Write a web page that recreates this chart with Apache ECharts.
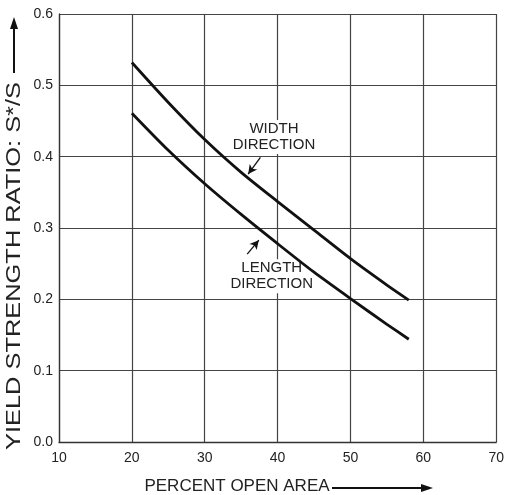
<!DOCTYPE html>
<html>
<head>
<meta charset="utf-8">
<script src="https://cdn.jsdelivr.net/npm/echarts@6/dist/echarts.min.js"></script>
<style>
html,body{margin:0;padding:0;background:#fff;}
#c{width:507px;height:495px;}
</style>
</head>
<body>
<div id="c"></div>
<script>
// Data
const percentOpen = [20, 25, 30, 35, 40, 45, 50, 55, 58];
const widthDirection = [0.532, 0.476, 0.424, 0.378, 0.337, 0.297, 0.257, 0.220, 0.199];
const lengthDirection = [0.461, 0.409, 0.362, 0.319, 0.278, 0.238, 0.201, 0.165, 0.144];
const xTicks = [10, 20, 30, 40, 50, 60, 70];
const yTicks = [0.0, 0.1, 0.2, 0.3, 0.4, 0.5, 0.6];
const widthLabel = 'WIDTH\nDIRECTION';
const lengthLabel = 'LENGTH\nDIRECTION';
const widthLabelAt = [39.5, 0.4275];
const lengthLabelAt = [39.2, 0.2325];
const widthArrow = [[37.64, 0.399], [35.96, 0.3756]];
const lengthArrow = [[35.83, 0.2634], [37.42, 0.283]];
const xName = 'PERCENT OPEN AREA';
const yName = 'YIELD STRENGTH RATIO: S*/S';

const FONT = '"Liberation Sans", Arial, Helvetica, sans-serif';
const chart = echarts.init(document.getElementById('c'), null, {renderer: 'canvas'});

function pairs(xs, ys) { return xs.map((x, i) => [x, ys[i]]); }

function arrowLine(pts) {
  return {
    silent: true,
    symbol: ['none', 'arrow'],
    symbolSize: [7, 9],
    label: {show: false},
    lineStyle: {color: '#111', width: 1.3, type: 'solid'},
    data: [[{coord: pts[0]}, {coord: pts[1]}]]
  };
}
function labelPoint(at, text) {
  return {
    silent: true,
    symbol: 'rect',
    symbolSize: 0,
    data: [{coord: at, value: text}],
    label: {
      show: true,
      position: 'inside',
      formatter: text,
      color: '#222',
      fontFamily: FONT,
      fontSize: 15,
      lineHeight: 16,
      align: 'center',
      verticalAlign: 'middle',
      backgroundColor: '#fff',
      padding: [1, 1]
    }
  };
}

const option = {
  animation: false,
  backgroundColor: '#fff',
  grid: {left: 59, top: 14, width: 441, height: 428, containLabel: false},
  xAxis: {
    type: 'value', min: xTicks[0], max: xTicks[xTicks.length - 1], interval: 10,
    axisLine: {show: true, onZero: false, lineStyle: {color: '#333', width: 1.3}},
    axisTick: {show: false},
    splitLine: {show: true, lineStyle: {color: '#444', width: 1.2}},
    axisLabel: {color: '#222', fontSize: 14, fontFamily: FONT, margin: 9,
      formatter: v => String(v), showMinLabel: true, showMaxLabel: true}
  },
  yAxis: {
    type: 'value', min: yTicks[0], max: yTicks[yTicks.length - 1], interval: 0.1,
    axisLine: {show: true, onZero: false, lineStyle: {color: '#333', width: 1.3}},
    axisTick: {show: false},
    splitLine: {show: true, lineStyle: {color: '#444', width: 1.2}},
    axisLabel: {color: '#222', fontSize: 14, fontFamily: FONT, margin: 6,
      formatter: v => v.toFixed(1), showMinLabel: true, showMaxLabel: true}
  },
  series: [
    {
      name: 'Annotations', type: 'scatter', data: [], z: 2,
      markLine: arrowLine(widthArrow),
      markPoint: labelPoint(widthLabelAt, widthLabel)
    },
    {
      name: 'Annotations 2', type: 'scatter', data: [], z: 2,
      markLine: arrowLine(lengthArrow),
      markPoint: labelPoint(lengthLabelAt, lengthLabel)
    },
    {
      name: 'Width direction', type: 'line', data: pairs(percentOpen, widthDirection),
      smooth: 0.25, showSymbol: false, symbol: 'none',
      lineStyle: {color: '#111', width: 2.8}, z: 5
    },
    {
      name: 'Length direction', type: 'line', data: pairs(percentOpen, lengthDirection),
      smooth: 0.25, showSymbol: false, symbol: 'none',
      lineStyle: {color: '#111', width: 2.8}, z: 5
    }
  ],
  graphic: [
    {type: 'text', x: 237, y: 486, style: {text: xName, fill: '#222', font: '17px ' + FONT, align: 'center', verticalAlign: 'middle'}},
    {type: 'line', shape: {x1: 332, y1: 488, x2: 424, y2: 488}, style: {stroke: '#111', lineWidth: 2}},
    {type: 'polygon', shape: {points: [[433, 488], [421, 484], [421, 492]]}, style: {fill: '#111'}},
    {type: 'text', x: 14.5, y: 266, rotation: Math.PI / 2, scaleX: 1.21, style: {text: yName, fill: '#222', font: '21px ' + FONT, align: 'center', verticalAlign: 'middle'}},
    {type: 'line', shape: {x1: 14, y1: 73, x2: 14, y2: 27}, style: {stroke: '#111', lineWidth: 2}},
    {type: 'polygon', shape: {points: [[14, 17], [10, 29], [18, 29]]}, style: {fill: '#111'}}
  ]
};
chart.setOption(option);
</script>
</body>
</html>
